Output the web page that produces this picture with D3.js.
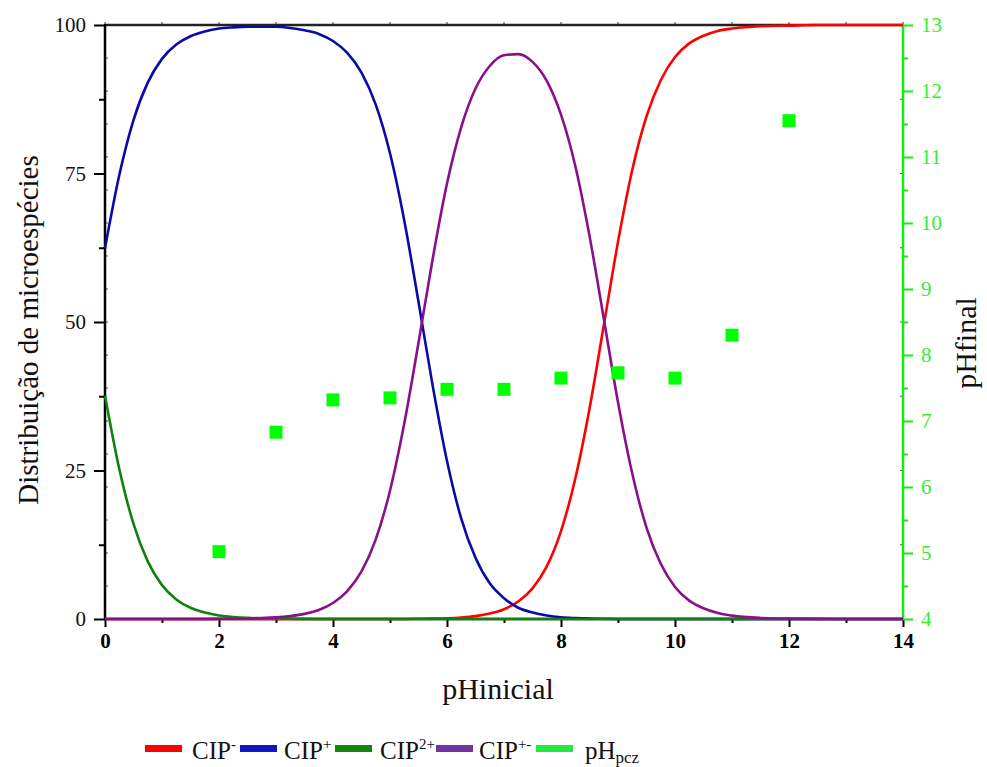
<!DOCTYPE html>
<html><head><meta charset="utf-8">
<script src="https://cdn.jsdelivr.net/npm/d3@7/dist/d3.min.js"></script>
<style>
body{margin:0;background:#fff}
svg{display:block}
text{font-family:"Liberation Serif","Times New Roman",serif}
</style>
</head><body>
<svg id="chart" width="987" height="767"></svg>
<script>
// ---- data ----
const pHgrid = [0,0.25,0.5,0.75,1,1.25,1.5,1.75,2,2.25,2.5,2.75,3,3.25,3.5,3.75,4,4.25,4.5,4.75,5,5.25,5.5,5.75,6,6.25,6.5,6.75,7,7.25,7.5,7.75,8,8.25,8.5,8.75,9,9.25,9.5,9.75,10,10.25,10.5,10.75,11,11.5,12,12.5,13,13.5,14];
const cipMinus = [0,0,0,0,0,0,0,0,0,0,0,0,0,0,0,0,0,0,0,0,0,0.01,0.03,0.06,0.13,0.26,0.49,0.91,1.65,2.94,5.15,8.85,14.8,23.6,35.4,49.4,63.5,75.6,84.6,90.7,94.6,96.9,98.2,99.0,99.4,99.8,99.9,100,100,100,100];
const cipPlus = [62.4,74.7,84.0,90.3,94.3,96.7,98.1,98.9,99.4,99.6,99.7,99.7,99.7,99.5,99.1,98.5,97.3,95.3,92.0,86.6,78.4,67.1,53.4,39.2,26.6,16.9,10.3,6.0,3.5,1.9,1.1,0.6,0.3,0.16,0.07,0.03,0.01,0,0,0,0,0,0,0,0,0,0,0,0,0,0];
const cip2Plus = [37.6,25.3,16.0,9.7,5.7,3.3,1.9,1.1,0.6,0.34,0.19,0.11,0.06,0.03,0.02,0.01,0,0,0,0,0,0,0,0,0,0,0,0,0,0,0,0,0,0,0,0,0,0,0,0,0,0,0,0,0,0,0,0,0,0,0];
const cipZw = [0,0,0,0,0,0,0,0.01,0.03,0.05,0.09,0.15,0.27,0.49,0.86,1.53,2.7,4.7,8.0,13.4,21.6,32.9,46.5,60.7,73.3,82.8,89.3,93.1,94.9,95.1,93.8,90.6,84.9,76.3,64.5,50.6,36.5,24.5,15.4,9.3,5.4,3.1,1.8,1.0,0.57,0.18,0.06,0.02,0.01,0,0];
const pHinicialPts = [2,3,4,5,6,7,8,9,10,11,12];
const pHfinalPts = [5.02,6.83,7.32,7.35,7.48,7.48,7.65,7.73,7.65,8.30,11.55];
const xMajorTicks = [0,2,4,6,8,10,12,14];
const xMinorTicks = [1,3,5,7,9,11,13];
const leftMajorTicks = [0,25,50,75,100];
const leftMinorTicks = [12.5,37.5,62.5,87.5];
const rightMajorTicks = [4,5,6,7,8,9,10,11,12,13];
const rightMinorTicks = [4.5,5.5,6.5,7.5,8.5,9.5,10.5,11.5,12.5];
const legendLabels = [["CIP","-",""],["CIP","+",""],["CIP","2+",""],["CIP","+-",""],["pH","","pcz"]];

// ---- layout ----
const svg = d3.select("#chart");
const X0 = 105, X1 = 903, Y0 = 25, Y1 = 619;
const x = d3.scaleLinear().domain([0,14]).range([X0,X1]);
const yL = d3.scaleLinear().domain([0,100]).range([Y1,Y0]);
const yR = d3.scaleLinear().domain([4,13]).range([Y1,Y0]);
const GREEN = "#11ee11";

// tiny mirrored ticks (as in the original software output)
const mir = svg.append("g").attr("stroke","#555").attr("stroke-width",1);
rightMinorTicks.concat(rightMajorTicks).forEach(v=>{
  mir.append("line").attr("x1",X0).attr("x2",X0+3).attr("y1",yR(v)).attr("y2",yR(v));
});
leftMinorTicks.concat(leftMajorTicks).forEach(v=>{
  mir.append("line").attr("x1",X1-3).attr("x2",X1).attr("y1",yL(v)).attr("y2",yL(v));
});
xMajorTicks.concat(xMinorTicks).forEach(v=>{
  mir.append("line").attr("x1",x(v)).attr("x2",x(v)).attr("y1",Y0).attr("y2",Y0-3).attr("stroke","#333");
});

// bottom axis
const gB = svg.append("g").attr("transform",`translate(0,${Y1})`);
gB.call(d3.axisBottom(x).tickValues(xMajorTicks).tickSize(8).tickPadding(6).tickFormat(d3.format("d")));
gB.append("g").call(d3.axisBottom(x).tickValues(xMinorTicks).tickSize(4).tickFormat(""));
gB.selectAll(".domain").remove();
gB.selectAll("line").attr("stroke","#000").attr("stroke-width",2);
gB.selectAll("text").attr("fill","#000").attr("font-size",21).attr("font-weight","bold")
  .attr("font-family","'Liberation Serif',serif").attr("y",14);

// left axis
const gL = svg.append("g").attr("transform",`translate(${X0},0)`);
gL.call(d3.axisLeft(yL).tickValues(leftMajorTicks).tickSize(11).tickPadding(8));
gL.append("g").call(d3.axisLeft(yL).tickValues(leftMinorTicks).tickSize(6).tickFormat(""));
gL.selectAll(".domain").remove();
gL.selectAll("line").attr("stroke","#000").attr("stroke-width",2);
gL.selectAll("text").attr("fill","#111").attr("font-size",21)
  .attr("font-family","'Liberation Serif',serif");

// right axis
const gR = svg.append("g").attr("transform",`translate(${X1},0)`);
gR.call(d3.axisRight(yR).tickValues(rightMajorTicks).tickSize(10).tickPadding(8));
gR.append("g").call(d3.axisRight(yR).tickValues(rightMinorTicks).tickSize(5).tickFormat(""));
gR.selectAll(".domain").remove();
gR.selectAll("line").attr("stroke",GREEN).attr("stroke-width",2);
gR.selectAll("text").attr("fill","#33ee33").attr("font-size",21)
  .attr("font-family","'Liberation Serif',serif");

// frame lines
svg.append("line").attr("x1",X0).attr("x2",X1).attr("y1",Y0).attr("y2",Y0).attr("stroke","#222").attr("stroke-width",2.5);
svg.append("line").attr("x1",X0).attr("x2",X0).attr("y1",Y0-1).attr("y2",Y1+1).attr("stroke","#000").attr("stroke-width",2.5);
svg.append("line").attr("x1",X0).attr("x2",X1).attr("y1",Y1).attr("y2",Y1).attr("stroke","#000").attr("stroke-width",2.5);
svg.append("line").attr("x1",X1).attr("x2",X1).attr("y1",Y0).attr("y2",Y1).attr("stroke",GREEN).attr("stroke-width",2.5);

// curves
const series = [
  {vals:cipMinus, color:"#ff0000"},
  {vals:cipPlus, color:"#0a0aa6"},
  {vals:cip2Plus, color:"#0e820e"},
  {vals:cipZw, color:"#8a108a"}
];
const line = d3.line().x(d=>x(d[0])).y(d=>yL(d[1])).curve(d3.curveMonotoneX);
series.forEach(s=>{
  svg.append("path").datum(pHgrid.map((p,i)=>[p,s.vals[i]]))
    .attr("d",line).attr("fill","none").attr("stroke",s.color).attr("stroke-width",2.6);
});

// pHpcz points
const S = 13;
svg.append("g").selectAll("rect").data(pHinicialPts.map((p,i)=>[p,pHfinalPts[i]])).join("rect")
  .attr("x",d=>x(d[0])-S/2).attr("y",d=>yR(d[1])-S/2).attr("width",S).attr("height",S)
  .attr("fill","#00ff00");

// axis titles
svg.append("text").attr("x",498).attr("y",699).attr("text-anchor","middle")
  .attr("font-size",30).attr("fill","#111").text("pHinicial");
svg.append("text").attr("transform",`translate(38,330) rotate(-90)`).attr("text-anchor","middle")
  .attr("font-size",29).attr("fill","#111").text("Distribuição de microespécies");
svg.append("text").attr("transform",`translate(976,343) rotate(-90)`).attr("text-anchor","middle")
  .attr("font-size",30).attr("fill","#111").text("pHfinal");

// legend
const legColors = ["#ff0000","#1414c4","#148414","#7234a2","#22e844"];
const legSwX = [145,240,335,436,536];
const legTxX = [192,284,380,479,585];
legendLabels.forEach((lab,i)=>{
  svg.append("rect").attr("x",legSwX[i]).attr("y",745).attr("width",37).attr("height",7).attr("fill",legColors[i]);
  const t = svg.append("text").attr("x",legTxX[i]).attr("y",759).attr("font-size",25).attr("fill","#111");
  t.append("tspan").text(lab[0]);
  if(lab[1]) t.append("tspan").attr("font-size",15).attr("dy",-10).text(lab[1]);
  if(lab[2]) t.append("tspan").attr("font-size",17).attr("dy",4).text(lab[2]);
});
</script>
</body></html>
